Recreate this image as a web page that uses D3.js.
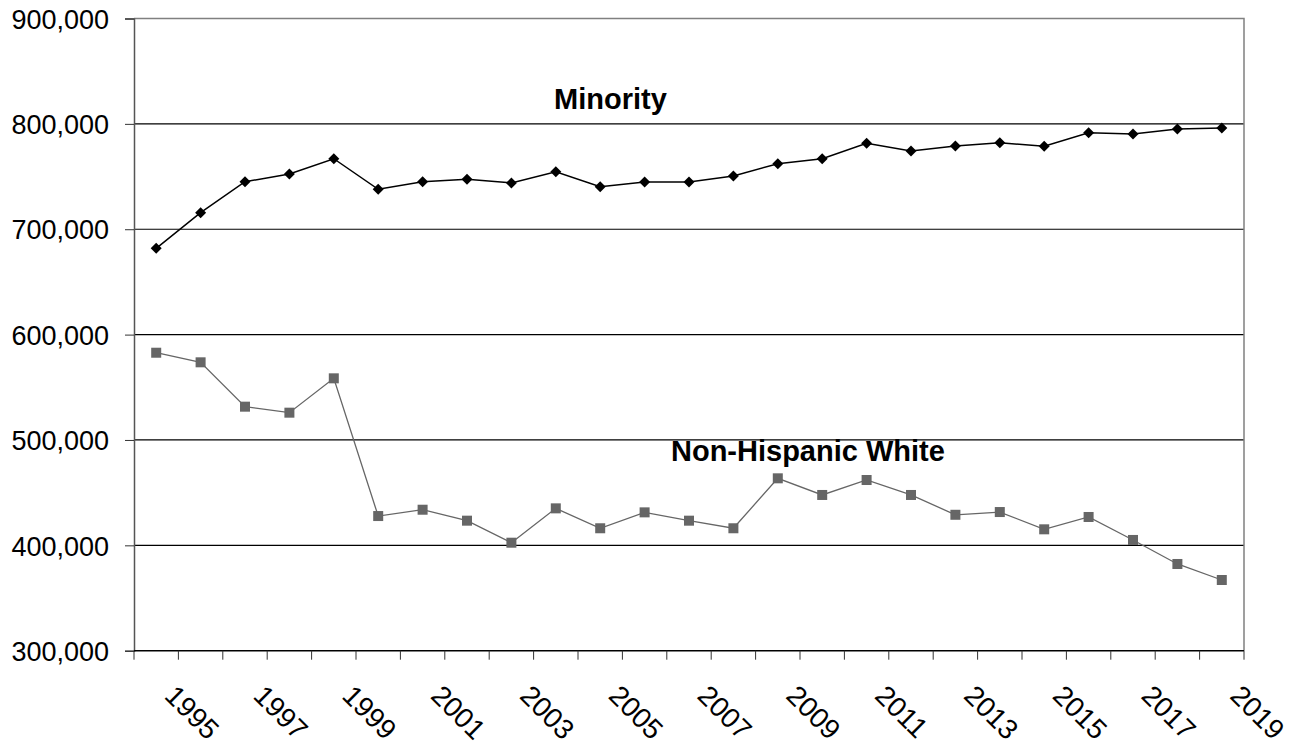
<!DOCTYPE html>
<html>
<head>
<meta charset="utf-8">
<script src="https://cdn.jsdelivr.net/npm/d3@7"></script>
<style>
    body { margin: 0; background: #fff; }
    #chart text { font-family: Arial, "Liberation Sans", sans-serif; }
</style>
</head>
<body>
<div id="chart"><svg width="1291" height="745"></svg></div>
<script>
var years = ["1995", "1996", "1997", "1998", "1999", "2000", "2001", "2002", "2003", "2004",
    "2005", "2006", "2007", "2008", "2009", "2010", "2011", "2012", "2013", "2014",
    "2015", "2016", "2017", "2018", "2019"];

var minority = [681900, 715700, 745100, 752400, 766900, 737900, 745100, 747400, 743900, 754600,
    740400, 744800, 744800, 750500, 762200, 766900, 781500, 774200, 779000, 782100,
    778700, 791600, 790400, 795100, 796000];

var white = [582800, 573700, 531600, 525900, 558500, 427800, 433800, 423400, 402500, 435100,
    416200, 431300, 423400, 416200, 463600, 447800, 462000, 447800, 429000, 431600,
    415200, 426900, 405100, 382300, 367100];

var xLabels = ["1995", "1997", "1999", "2001", "2003", "2005", "2007", "2009", "2011", "2013",
    "2015", "2017", "2019"];

var yTicks = [300000, 400000, 500000, 600000, 700000, 800000, 900000];

var seriesLabels = ["Minority", "Non-Hispanic White"];

var svg = d3.select('#chart svg');

var plotLeft = 134, plotRight = 1244, plotTop = 18.5, plotBottom = 650.7;

var x = d3.scaleBand()
    .domain(years)
    .range([plotLeft, plotRight])
    .padding(0);

var y = d3.scaleLinear()
    .domain([300000, 900000])
    .range([plotBottom, plotTop]);

function cx(d, i) { return x(years[i]) + x.bandwidth() / 2; }

// gridlines
svg.append('g')
    .selectAll('line')
    .data(yTicks.slice(1, -1))
    .enter().append('line')
    .attr('x1', plotLeft).attr('x2', plotRight)
    .attr('y1', d => y(d)).attr('y2', d => y(d))
    .attr('stroke', '#000')
    .attr('stroke-width', 1.2);

// plot border (top / right)
svg.append('path')
    .attr('d', 'M' + plotLeft + ',' + y(900000) + 'H' + plotRight + 'V' + plotBottom)
    .attr('fill', 'none')
    .attr('stroke', '#808080')
    .attr('stroke-width', 1.5);

// y axis
var yAxis = d3.axisLeft(y)
    .tickValues(yTicks)
    .tickSize(9)
    .tickPadding(16)
    .tickFormat(d3.format(','));

var gy = svg.append('g')
    .attr('transform', 'translate(' + plotLeft + ',0)')
    .call(yAxis);

gy.select('.domain').attr('stroke', '#555').attr('stroke-width', 1.5);
gy.selectAll('.tick line').attr('stroke', '#333');
gy.selectAll('.tick text')
    .attr('font-size', 27)
    .attr('fill', '#000')
    .attr('dy', '0.36em');

// x axis: ticks on category boundaries
var boundaries = years.map(d => x(d)).concat([plotRight]);

var gx = svg.append('g');
gx.append('line')
    .attr('x1', plotLeft).attr('x2', plotRight)
    .attr('y1', plotBottom).attr('y2', plotBottom)
    .attr('stroke', '#000')
    .attr('stroke-width', 1.5);

gx.selectAll('line.tick')
    .data(boundaries)
    .enter().append('line')
    .attr('class', 'tick')
    .attr('x1', d => d).attr('x2', d => d)
    .attr('y1', plotBottom).attr('y2', plotBottom + 9)
    .attr('stroke', '#333');

gx.selectAll('text')
    .data(xLabels)
    .enter().append('text')
    .attr('transform', d => 'translate(' + (x(d) + x.bandwidth() / 2 + 7) + ',' + (plotBottom + 46.5) + ') rotate(45)')
    .attr('font-size', 28)
    .attr('fill', '#000')
    .text(d => d);

// series
var line = d3.line()
    .x(cx)
    .y(d => y(d));

svg.append('path')
    .datum(white)
    .attr('d', line)
    .attr('fill', 'none')
    .attr('stroke', '#666')
    .attr('stroke-width', 1.3);

svg.append('g')
    .selectAll('rect')
    .data(white)
    .enter().append('rect')
    .attr('x', (d, i) => cx(d, i) - 5)
    .attr('y', d => y(d) - 5)
    .attr('width', 10)
    .attr('height', 10)
    .attr('fill', '#666');

svg.append('path')
    .datum(minority)
    .attr('d', line)
    .attr('fill', 'none')
    .attr('stroke', '#000')
    .attr('stroke-width', 1.5);

svg.append('g')
    .selectAll('path')
    .data(minority)
    .enter().append('path')
    .attr('d', (d, i) => {
        var px = cx(d, i), py = y(d), r = 5.5;
        return 'M' + px + ',' + (py - r) + 'L' + (px + r) + ',' + py + 'L' + px + ',' + (py + r) + 'L' + (px - r) + ',' + py + 'Z';
    })
    .attr('fill', '#000');

// series labels
svg.append('text')
    .attr('x', 554)
    .attr('y', 109)
    .attr('font-size', 29)
    .attr('font-weight', 'bold')
    .text(seriesLabels[0]);

svg.append('text')
    .attr('x', 671)
    .attr('y', 461)
    .attr('font-size', 29)
    .attr('font-weight', 'bold')
    .text(seriesLabels[1]);
</script>
</body>
</html>
